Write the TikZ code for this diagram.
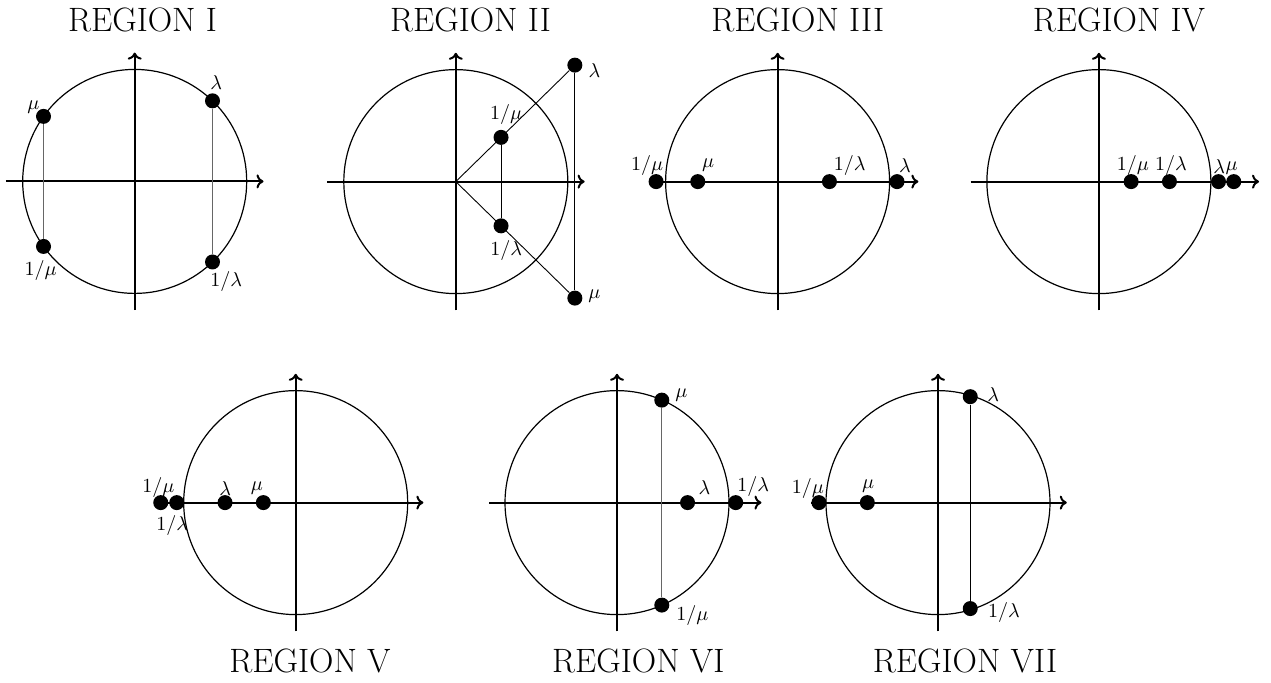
\documentclass[tikz,border=0pt]{standalone}
\usetikzlibrary{arrows.meta}
\tikzset{
  unitcirc/.style={line width=0.6pt},
  axis/.style={line width=1pt,-{To[length=3.5pt,width=7pt]}},
  dot/.style={circle,fill=black,inner sep=0pt,minimum size=7.5pt},
  lbl/.style={font=\fontsize{10}{12}\selectfont,inner sep=0pt},
  ttl/.style={font=\fontsize{16.9}{20}\selectfont,inner sep=0pt},
  link/.style={line width=0.45pt},
  glink/.style={line width=0.45pt,draw=black!60},
}
\begin{document}
\begin{tikzpicture}[x=0.5pt,y=-0.5pt]
\useasboundingbox (0,0) rectangle (1271,682);

% titles
\node[ttl] (t1) at (142.5,19.5) {REGION I};
\node[ttl] (t2) at (470.5,19.5) {REGION II};
\node[ttl] (t3) at (797.8,19.5) {REGION III};
\node[ttl] (t4) at (1119,19.5) {REGION IV};
\node[ttl] (t5) at (310,660.8) {REGION V};
\node[ttl] (t6) at (638.3,660.8) {REGION VI};
\node[ttl] (t7) at (965,660.8) {REGION VII};

% ---------- REGION I
\begin{scope}[shift={(134.7,181.4)},x=56pt,y=56pt]
  \draw[unitcirc] (0,0) circle[radius=1];
  \draw[axis] (-1.15,0) -- (1.15,0);
  \draw[axis] (0,-1.15) -- (0,1.15);
  \node[dot] (Imu) at (144.5:1) {};
  \node[dot] (Iimu) at (-144.5:1) {};
  \node[dot] (Ila) at (46:1) {};
  \node[dot] (Iila) at (-46:1) {};
  \draw[glink] (Imu) -- (Iimu);
  \draw[glink] (Ila) -- (Iila);
  \path (Imu) ++(-5pt,4.5pt) node[lbl] (IlmuT) {$\mu$};
  \path (Iimu) ++(-1.4pt,-12.2pt) node[lbl] (IlimuT) {$1/\mu$};
  \path (Ila) ++(1.9pt,8.9pt) node[lbl] (IllaT) {$\lambda$};
  \path (Iila) ++(6.9pt,-9.7pt) node[lbl] (IlilaT) {$1/\lambda$};
\end{scope}

% ---------- REGION II
\begin{scope}[shift={(455.8,181.6)},x=56pt,y=56pt]
  \draw[unitcirc] (0,0) circle[radius=1];
  \draw[axis] (-1.15,0) -- (1.15,0);
  \draw[axis] (0,-1.15) -- (0,1.15);
  \coordinate (IIo) at (0,0);
  \node[dot] (IIla) at (1.063,1.04) {};
  \node[dot] (IImu) at (1.063,-1.04) {};
  \node[dot] (IIimu) at (0.404,0.395) {};
  \node[dot] (IIila) at (0.404,-0.395) {};
  \draw[link] (IIo) -- (IIla);
  \draw[link] (IIo) -- (IImu);
  \draw[link] (IIimu) -- (IIila);
  \draw[link] (IIla) -- (IImu);
  \path (IIla) ++(9.8pt,-2.6pt) node[lbl] (IIlaT) {$\lambda$};
  \path (IImu) ++(9.8pt,0.8pt) node[lbl] (IImuT) {$\mu$};
  \path (IIimu) ++(2.6pt,11.5pt) node[lbl] (IIimuT) {$1/\mu$};
  \path (IIila) ++(2.6pt,-12.4pt) node[lbl] (IIilaT) {$1/\lambda$};
\end{scope}

% ---------- REGION III
\begin{scope}[shift={(777.6,181.6)},x=56pt,y=56pt]
  \draw[unitcirc] (0,0) circle[radius=1];
  \draw[axis] (-1.15,0) -- (1.257,0);
  \draw[axis] (0,-1.15) -- (0,1.15);
  \node[dot] (IIIimu) at (-1.085,0) {};
  \node[dot] (IIImu) at (-0.713,0) {};
  \node[dot] (IIIila) at (0.463,0) {};
  \node[dot] (IIIla) at (1.066,0) {};
  \path (IIIimu) ++(-4.5pt,8pt) node[lbl] (IIIimuT) {$1/\mu$};
  \path (IIImu) ++(5.2pt,8.3pt) node[lbl] (IIImuT) {$\mu$};
  \path (IIIila) ++(10.1pt,8.3pt) node[lbl] (IIIilaT) {$1/\lambda$};
  \path (IIIla) ++(4pt,7.8pt) node[lbl] (IIIlaT) {$\lambda$};
\end{scope}

% ---------- REGION IV
\begin{scope}[shift={(1098.9,181.6)},x=56pt,y=56pt]
  \draw[unitcirc] (0,0) circle[radius=1];
  \draw[axis] (-1.146,0) -- (1.43,0);
  \draw[axis] (0,-1.15) -- (0,1.15);
  \node[dot] (IVimu) at (0.288,0) {};
  \node[dot] (IVila) at (0.63,0) {};
  \node[dot] (IVla) at (1.068,0) {};
  \node[dot] (IVmu) at (1.204,0) {};
  \path (IVimu) ++(0.9pt,8.1pt) node[lbl] (IVimuT) {$1/\mu$};
  \path (IVila) ++(0.8pt,8.1pt) node[lbl] (IVilaT) {$1/\lambda$};
  \path (IVla) ++(0.3pt,7.5pt) node[lbl] (IVlaT) {$\lambda$};
  \path (IVmu) ++(-1pt,6.9pt) node[lbl] (IVmuT) {$\mu$};
\end{scope}

% ---------- REGION V
\begin{scope}[shift={(295.7,502.6)},x=56pt,y=56pt]
  \draw[unitcirc] (0,0) circle[radius=1];
  \draw[axis] (-1.15,0) -- (1.14,0);
  \draw[axis] (0,-1.15) -- (0,1.15);
  \node[dot] (Vimu) at (-1.205,0) {};
  \node[dot] (Vila) at (-1.062,0) {};
  \node[dot] (Vla) at (-0.631,0) {};
  \node[dot] (Vmu) at (-0.289,0) {};
  \path (Vimu) ++(-1.2pt,7.5pt) node[lbl] (VimuT) {$1/\mu$};
  \path (Vila) ++(-2.3pt,-11.6pt) node[lbl] (VilaT) {$1/\lambda$};
  \path (Vla) ++(0.15pt,7.2pt) node[lbl] (VlaT) {$\lambda$};
  \path (Vmu) ++(-3.2pt,7.3pt) node[lbl] (VmuT) {$\mu$};
\end{scope}

% ---------- REGION VI
\begin{scope}[shift={(617,502.6)},x=56pt,y=56pt]
  \draw[unitcirc] (0,0) circle[radius=1];
  \draw[axis] (-1.14,0) -- (1.29,0);
  \draw[axis] (0,-1.15) -- (0,1.15);
  \node[dot] (VImu) at (0.40,0.915) {};
  \node[dot] (VIimu) at (0.40,-0.915) {};
  \node[dot] (VIla) at (0.63,0) {};
  \node[dot] (VIila) at (1.06,0) {};
  \draw[glink] (VImu) -- (VIimu);
  \path (VImu) ++(9.8pt,2.7pt) node[lbl] (VImuT) {$\mu$};
  \path (VIimu) ++(15.3pt,-5pt) node[lbl] (VIimuT) {$1/\mu$};
  \path (VIla) ++(8.5pt,7.75pt) node[lbl] (VIlaT) {$\lambda$};
  \path (VIila) ++(8.8pt,8pt) node[lbl] (VIilaT) {$1/\lambda$};
\end{scope}

% ---------- REGION VII
\begin{scope}[shift={(938,502.6)},x=56pt,y=56pt]
  \draw[unitcirc] (0,0) circle[radius=1];
  \draw[axis] (-1.13,0) -- (1.15,0);
  \draw[axis] (0,-1.15) -- (0,1.15);
  \node[dot] (VIIla) at (0.288,0.946) {};
  \node[dot] (VIIila) at (0.288,-0.946) {};
  \node[dot] (VIIimu) at (-1.063,0) {};
  \node[dot] (VIImu) at (-0.631,0) {};
  \draw[link] (VIIla) -- (VIIila);
  \path (VIIla) ++(11.5pt,1pt) node[lbl] (VIIlaT) {$\lambda$};
  \path (VIIila) ++(16.8pt,-2pt) node[lbl] (VIIilaT) {$1/\lambda$};
  \path (VIIimu) ++(-5.5pt,7.2pt) node[lbl] (VIIimuT) {$1/\mu$};
  \path (VIImu) ++(0.35pt,8pt) node[lbl] (VIImuT) {$\mu$};
\end{scope}
\end{tikzpicture}
\end{document}
